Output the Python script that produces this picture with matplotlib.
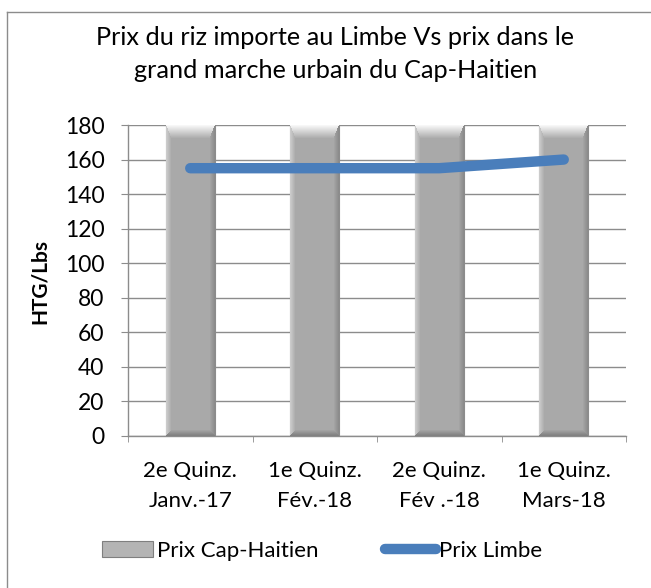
import numpy as np
import matplotlib.pyplot as plt
from matplotlib.patches import Patch
from matplotlib.lines import Line2D

categories = ["2e Quinz.\nJanv.-17", "1e Quinz.\nFév.-18", "2e Quinz.\nFév .-18", "1e Quinz.\nMars-18"]
prix_cap_haitien = [180, 180, 180, 180]
prix_limbe = [155, 155, 155, 160]
y_ticks = [0, 20, 40, 60, 80, 100, 120, 140, 160, 180]
title = "Prix du riz importe au Limbe Vs prix dans le\ngrand marche urbain du Cap-Haitien"
y_label = "HTG/Lbs"
series_names = ["Prix Cap-Haitien", "Prix Limbe"]

plt.rcParams['font.family'] = ['Lato', 'DejaVu Sans']

W, H = 651, 588
fig = plt.figure(figsize=(W / 100, H / 100), dpi=100)
fig.patch.set_facecolor('white')

ax = fig.add_axes([128 / W, 1 - 436 / H, 498 / W, 311 / H])
x = np.arange(len(categories))

grid_c = '#8c8c8c'
ax.set_axisbelow(True)
ax.yaxis.grid(True, color=grid_c, lw=1.0)
for s in ['top', 'right']:
    ax.spines[s].set_visible(False)
for s in ['left', 'bottom']:
    ax.spines[s].set_color(grid_c)
    ax.spines[s].set_linewidth(1.0)

# bevel image for bars (style only)
bh, bw = 311, 49
rows = np.arange(bh)[:, None] * np.ones((1, bw))
cols = np.ones((bh, 1)) * np.arange(bw)[None, :]
dt = rows / 13.0
db = (bh - 1 - rows) / 6.0
dl = cols / 5.0
dr = (bw - 1 - cols) / 5.0
stack = np.stack([dt, db, dl, dr])
m = np.clip(stack.min(axis=0), 0, 1)
which = stack.argmin(axis=0)
body = 0.665
edge_vals = np.array([0.97, 0.50, 0.80, 0.55])
edge = edge_vals[which]
img = edge * (1 - m) + body * m
rgb = np.dstack([img, img, img])

bars = ax.bar(x, prix_cap_haitien, width=0.39, color='#a9a9a9',
              edgecolor='#8c8c8c', lw=0.8, zorder=2)
for b in bars:
    x0, y0 = b.get_x(), b.get_y()
    w, h = b.get_width(), b.get_height()
    ax.imshow(rgb, extent=[x0, x0 + w, y0, y0 + h], aspect='auto',
              interpolation='bilinear', zorder=2.5)

ax.plot(x, prix_limbe, color='#4a7ebb', lw=7.5, solid_capstyle='round', zorder=3)

ax.set_xlim(-0.5, len(categories) - 0.5)
ax.set_ylim(0, 180)
ax.set_yticks(y_ticks)
ax.tick_params(axis='y', length=5, color=grid_c, pad=12, labelsize=16.5)
ax.set_xticks(x, categories, linespacing=1.6)
ax.tick_params(axis='x', which='major', length=0, pad=18, labelsize=16)
ax.set_xticks(np.arange(len(categories) + 1) - 0.5, minor=True)
ax.tick_params(axis='x', which='minor', length=4, color=grid_c, direction='out')

fig.text(0.515, 1 - 54 / H, title, ha='center', va='center', fontsize=18.2, linespacing=1.5)
fig.text(40 / W, 1 - 282 / H, y_label, rotation=90, weight='bold', fontsize=15,
         ha='center', va='center')

handles = [Patch(facecolor='#b4b4b4', edgecolor='#7f7f7f', lw=0.8),
           Line2D([0], [0], color='#4a7ebb', lw=7.5, solid_capstyle='round')]
fig.legend(handles, series_names, loc='center', bbox_to_anchor=(0.495, 1 - 551 / H),
           ncol=2, frameon=False, fontsize=16, handlelength=2.3, handleheight=0.7,
           handletextpad=0.15, columnspacing=3.0)

border_c = '#8c8c8c'
fig.add_artist(Line2D([7 / W, 7 / W], [0, 1 - 12 / H], transform=fig.transFigure, color=border_c, lw=1))
fig.add_artist(Line2D([7 / W, 1], [1 - 12 / H, 1 - 12 / H], transform=fig.transFigure, color=border_c, lw=1))

fig.savefig('out.png', dpi=100)
